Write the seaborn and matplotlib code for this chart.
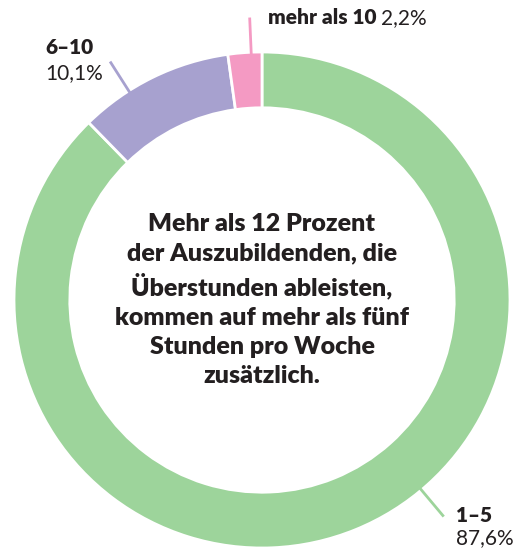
import numpy as np
import matplotlib.pyplot as plt
import seaborn as sns

# Überstunden pro Woche (Auszubildende)
categories = ["1–5", "6–10", "mehr als 10"]
shares = [87.6, 10.1, 2.2]
share_labels = ["87,6%", "10,1%", "2,2%"]
colors = ["#9dd49b", "#a7a1cf", "#f49ac3"]

sns.set_theme(style="white")
plt.rcParams["font.family"] = ["Lato", "DejaVu Sans"]
dark = "#231f20"

fig = plt.figure(figsize=(5.18, 5.51), dpi=100)
ax = fig.add_axes([0, 0, 1, 1])
ax.set_aspect("equal")
ax.axis("off")

wedges, _ = ax.pie(shares, colors=colors, startangle=90, counterclock=False,
                   radius=1.0, wedgeprops=dict(width=0.225, edgecolor="white", linewidth=2))

ax.set_xlim(-262 / 248, 256 / 248)
ax.set_ylim(-251 / 248, 300 / 248)

# leader lines
leader_angles = [-50, 122.5, 92.5]
for ang, col in zip(leader_angles, colors):
    a = np.deg2rad(ang)
    r0, r1 = 0.99, 1.14
    ax.plot([r0 * np.cos(a), r1 * np.cos(a)], [r0 * np.sin(a), r1 * np.sin(a)],
            color=col, lw=2, solid_capstyle="butt")

fs = 15
# 1–5
ax.text(194 / 248, -215 / 248, categories[0], fontsize=fs, fontweight="heavy", color=dark,
        ha="left", va="center")
ax.text(194 / 248, -238 / 248, share_labels[0], fontsize=fs, color=dark, ha="left", va="center")
# 6–10
ax.text(-217 / 248, 252 / 248, categories[1], fontsize=fs, fontweight="heavy", color=dark,
        ha="left", va="center")
ax.text(-217 / 248, 227 / 248, share_labels[1], fontsize=fs, color=dark, ha="left", va="center")
# mehr als 10
t = ax.text(6 / 248, 282 / 248, categories[2] + " ", fontsize=fs, fontweight="heavy", color=dark,
            ha="left", va="center")
fig.canvas.draw()
bb = t.get_window_extent().transformed(ax.transData.inverted())
ax.text(bb.x1, 282 / 248, share_labels[2], fontsize=fs, color=dark, ha="left", va="center")

ax.text(0, 0, "Mehr als 12 Prozent\nder Auszubildenden, die\nÜberstunden ableisten,\n"
        "kommen auf mehr als fünf\nStunden pro Woche\nzusätzlich.",
        ha="center", va="center", fontsize=18, fontweight="heavy", color=dark, linespacing=1.4)

fig.savefig("out.png", dpi=100)
